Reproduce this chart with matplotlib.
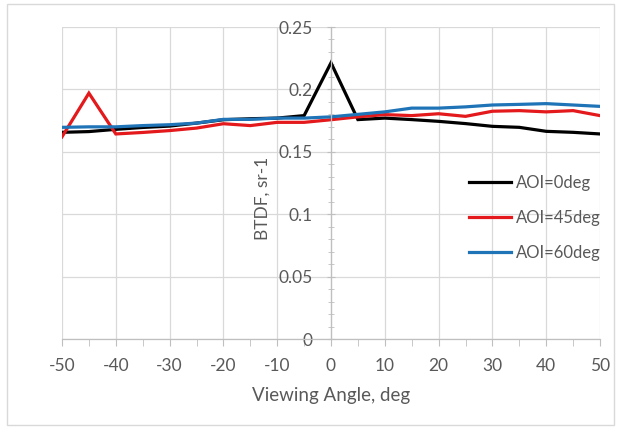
import numpy as np
import matplotlib.pyplot as plt
from matplotlib.patches import Rectangle

# datos: BTDF vs angulo de vision
angulo = [-50, -45, -40, -35, -30, -25, -20, -15, -10, -5, 0,
          5, 10, 15, 20, 25, 30, 35, 40, 45, 50]

btdf_aoi0 = [0.1656, 0.1662, 0.1680, 0.1695, 0.1706, 0.1730, 0.1757, 0.1765, 0.1770, 0.1790, 0.2213,
             0.1758, 0.1770, 0.1758, 0.1744, 0.1726, 0.1704, 0.1696, 0.1664, 0.1656, 0.1643]
btdf_aoi45 = [0.1620, 0.1970, 0.1643, 0.1655, 0.1670, 0.1690, 0.1725, 0.1710, 0.1736, 0.1736, 0.1757,
              0.1780, 0.1798, 0.1790, 0.1805, 0.1784, 0.1825, 0.1830, 0.1820, 0.1830, 0.1790]
btdf_aoi60 = [0.1696, 0.1700, 0.1700, 0.1710, 0.1717, 0.1730, 0.1760, 0.1760, 0.1770, 0.1770, 0.1780,
              0.1800, 0.1820, 0.1850, 0.1850, 0.1860, 0.1875, 0.1880, 0.1886, 0.1875, 0.1864]

etiquetas = ['AOI=0deg', 'AOI=45deg', 'AOI=60deg']
colores = ['black', '#e3191c', '#1f73b7']

plt.rcParams['font.family'] = ['Lato', 'DejaVu Sans']
plt.rcParams['axes.unicode_minus'] = False
gris = '#595959'

fig = plt.figure(figsize=(6.19, 4.32), dpi=100)
ax = fig.add_axes([62 / 619, 1 - 339 / 432, 538 / 619, 312 / 432])

# marco exterior del grafico
fig.patches.append(Rectangle((7 / 619, 1 - 425 / 432), 607 / 619, 421 / 432,
                             transform=fig.transFigure, fill=False,
                             edgecolor='#d9d9d9', linewidth=1))

for serie, lab, col in zip([btdf_aoi0, btdf_aoi45, btdf_aoi60], etiquetas, colores):
    ax.plot(angulo, serie, color=col, linewidth=2.3, label=lab, solid_joinstyle='miter')

ax.set_xlim(-50, 50)
ax.set_ylim(0, 0.25)
ax.set_xticks(np.arange(-50, 51, 10))
ax.set_xticks(np.arange(-45, 50, 10), minor=True)
ax.set_yticks([0, 0.05, 0.1, 0.15, 0.2, 0.25])
ax.set_yticklabels(['0', '0.05', '0.1', '0.15', '0.2', '0.25'])
ax.set_yticks(np.arange(0, 0.251, 0.01), minor=True)

ax.grid(True, which='major', color='#d9d9d9', linewidth=0.9)
ax.set_axisbelow(True)

ax.spines['left'].set_position(('data', 0))
ax.spines['bottom'].set_position(('data', 0))
ax.spines['top'].set_visible(False)
ax.spines['right'].set_visible(False)
for s in ['left', 'bottom']:
    ax.spines[s].set_color('#bfbfbf')
    ax.spines[s].set_linewidth(0.9)

ax.tick_params(axis='x', which='both', direction='out', length=5, color='#bfbfbf',
               labelcolor=gris, labelsize=12.5, pad=9)
ax.tick_params(axis='y', which='major', direction='inout', length=6, color='#bfbfbf',
               labelcolor=gris, labelsize=12.5, pad=10)
ax.tick_params(axis='y', which='minor', direction='inout', length=4, color='#bfbfbf')

ax.set_xlabel('Viewing Angle, deg', color=gris, fontsize=13.5, labelpad=9)
ax.set_ylabel('BTDF, sr-1', color=gris, fontsize=12.5)
ax.yaxis.set_label_coords(0.387, 0.45)

ax.legend(loc='center left', bbox_to_anchor=(469 / 619, 1 - 218 / 432),
          bbox_transform=fig.transFigure, frameon=False, fontsize=12,
          handlelength=2.5, handletextpad=0.3, labelspacing=1.15, labelcolor=gris,
          borderpad=0, borderaxespad=0)

fig.savefig('out.png', dpi=100)
